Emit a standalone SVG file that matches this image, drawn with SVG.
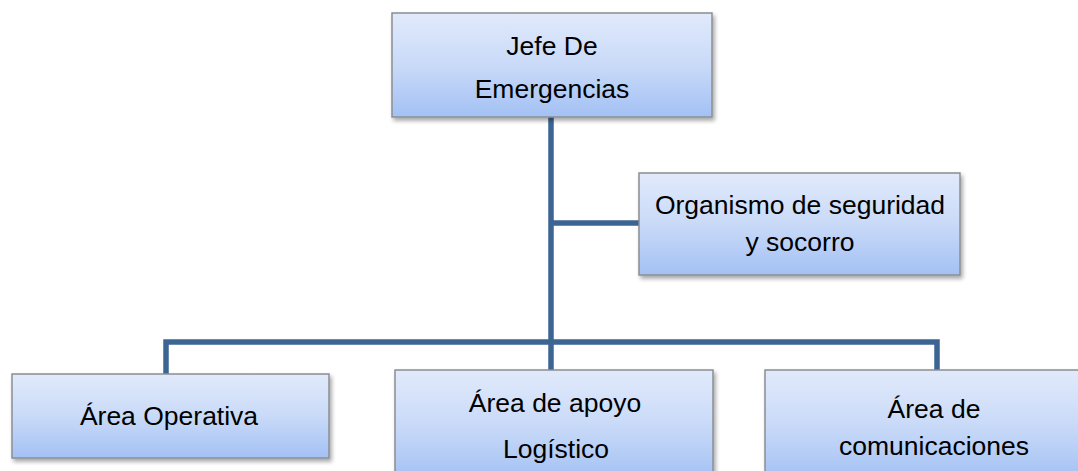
<svg xmlns="http://www.w3.org/2000/svg" width="1078" height="471" viewBox="0 0 1078 471">
  <style>
    .box { fill: url(#g); stroke: #8a8e94; stroke-width: 1.5; filter: url(#sh); }
    .t { font-family: "Liberation Sans", Arial, sans-serif; font-size: 26.5px; fill: #000; text-anchor: middle; }
    .c { fill: none; stroke: #3d6594; stroke-width: 5.5; stroke-linejoin: miter; stroke-linecap: butt; }
  </style>
  <defs>
    <linearGradient id="g" x1="0" y1="0" x2="0" y2="1">
      <stop offset="0" stop-color="#e1eafb"/>
      <stop offset="0.5" stop-color="#c9daf8"/>
      <stop offset="1" stop-color="#a3c1f4"/>
    </linearGradient>
    <filter id="sh" x="-10%" y="-10%" width="125%" height="130%">
      <feGaussianBlur in="SourceAlpha" stdDeviation="2"/>
      <feOffset dx="2" dy="3" result="b"/>
      <feComponentTransfer><feFuncA type="linear" slope="0.35"/></feComponentTransfer>
      <feMerge><feMergeNode/><feMergeNode in="SourceGraphic"/></feMerge>
    </filter>
  </defs>
  <rect width="1078" height="471" fill="#fff"/>
  <g id="connectors">
    <path class="c" d="M551 117 V372"/>
    <path class="c" d="M551 223 H640"/>
    <path class="c" d="M166 374 V342 H937 V370"/>
  </g>
  <g id="jefe">
    <rect class="box" x="392" y="13" width="320" height="104"/>
    <text class="t" x="552" y="55">Jefe De</text>
    <text class="t" x="552" y="98">Emergencias</text>
  </g>
  <g id="organismo">
    <rect class="box" x="639" y="173" width="321" height="102"/>
    <text class="t" x="800" y="214">Organismo de seguridad</text>
    <text class="t" x="800" y="251">y socorro</text>
  </g>
  <g id="operativa">
    <rect class="box" x="12" y="374" width="317" height="84"/>
    <text class="t" x="169" y="425">Área Operativa</text>
  </g>
  <g id="logistico">
    <rect class="box" x="395" y="370" width="318" height="110"/>
    <text class="t" x="555" y="412">Área de apoyo</text>
    <text class="t" x="556" y="458">Logístico</text>
  </g>
  <g id="comunicaciones">
    <rect class="box" x="765" y="370" width="340" height="110"/>
    <text class="t" x="934" y="418">Área de</text>
    <text class="t" x="934" y="455">comunicaciones</text>
  </g>
</svg>
